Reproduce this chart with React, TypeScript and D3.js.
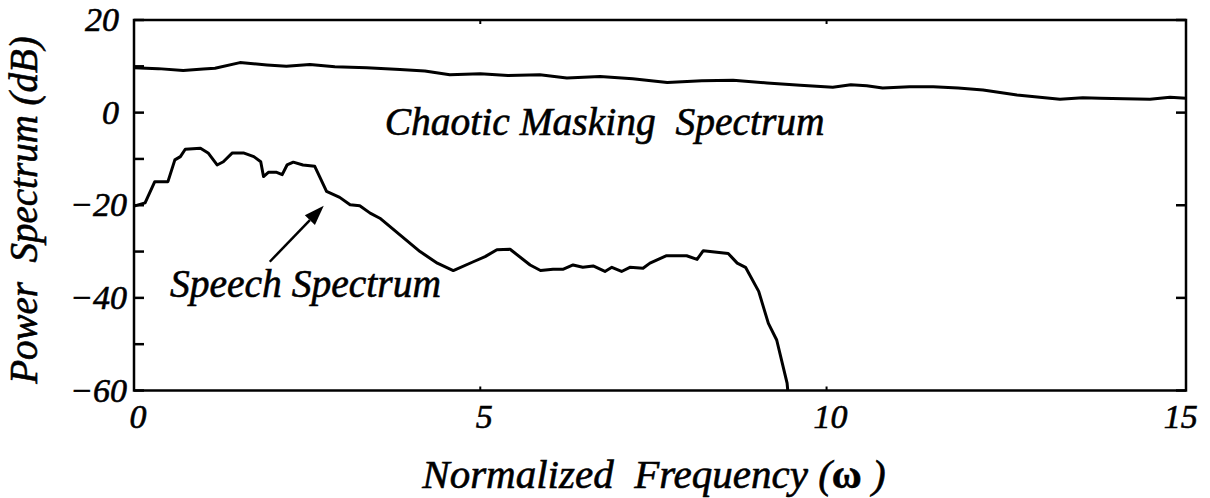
import React from "react";
import * as d3 from "d3";

const chaoticX = [0, 0.35, 0.71, 1.0, 1.17, 1.53, 1.92, 2.2, 2.54, 2.9, 3.36, 3.84, 4.2, 4.56, 5.0, 5.4, 5.86, 6.25, 6.73, 7.2, 7.7, 8.2, 8.65, 9.14, 9.62, 10.09, 10.35, 10.58, 10.81, 11.2, 11.54, 11.9, 12.26, 12.75, 13.37, 13.7, 13.95, 14.3, 14.67, 14.96, 15.19];
const chaoticY = [9.7, 9.5, 9.1, 9.4, 9.6, 10.8, 10.3, 10.0, 10.4, 9.9, 9.7, 9.3, 9.0, 8.2, 8.4, 8.0, 8.2, 7.5, 7.8, 7.3, 6.5, 6.9, 7.0, 6.4, 5.9, 5.5, 6.0, 5.8, 5.3, 5.6, 5.6, 5.3, 4.9, 3.8, 2.9, 3.2, 3.1, 3.0, 2.9, 3.3, 3.1];

const speechX = [0, 0.16, 0.3, 0.49, 0.59, 0.67, 0.74, 0.96, 1.07, 1.2, 1.29, 1.42, 1.58, 1.73, 1.83, 1.87, 1.94, 2.06, 2.14, 2.21, 2.3, 2.44, 2.61, 2.68, 2.78, 2.97, 3.12, 3.26, 3.41, 3.55, 3.84, 4.13, 4.38, 4.61, 4.9, 5.07, 5.24, 5.43, 5.72, 5.87, 6.05, 6.2, 6.34, 6.48, 6.63, 6.8, 6.9, 7.04, 7.16, 7.35, 7.45, 7.69, 7.98, 8.13, 8.22, 8.58, 8.71, 8.83, 9.02, 9.16, 9.28, 9.43, 9.44];
const speechY = [-20.2, -19.5, -14.9, -14.9, -10.2, -9.5, -7.9, -7.7, -8.7, -11.3, -10.6, -8.7, -8.7, -9.5, -10.6, -13.8, -12.9, -12.9, -13.4, -11.3, -10.7, -11.3, -11.6, -13.8, -17.0, -18.3, -19.9, -20.1, -21.7, -22.8, -26.4, -30.0, -32.5, -34.1, -32.2, -31.1, -29.6, -29.5, -32.9, -34.1, -33.8, -33.8, -32.9, -33.4, -33.1, -34.3, -33.4, -34.3, -33.4, -33.6, -32.5, -30.9, -30.9, -31.7, -29.8, -30.4, -32.5, -33.4, -38.6, -45.5, -49.1, -58.4, -60];

const xTicks = [0, 5, 10, 15];
const yTicksLeft = [20, 10, 0, -10, -20, -30, -40, -50, -60];
const yTicksRight = [20, 0, -20, -40, -60];
const yTickLabels = [20, 0, -20, -40, -60];

const chaoticLabel = { x: 3.62, y: -4.8, text: "Chaotic Masking\u00A0\u00A0Spectrum" };
const speechLabel = { x: 0.52, y: -39.8, text: "Speech Spectrum" };
const arrowFrom = { x: 1.96, y: -32.2 };
const arrowTo = { x: 2.74, y: -20.1 };
const xTitleMain = "Normalized\u00A0\u00A0Frequency\u00A0(";
const xTitleSym = "\u03C9";
const xTitleEnd = "\u00A0)";
const yTitle = "Power\u00A0\u00A0Spectrum\u00A0(dB)";

const W = 1210;
const H = 498;
const left = 134;
const right = 1186;
const top = 20;
const bottom = 390.5;

export default function App() {
  const x = d3.scaleLinear().domain([0, 15.19]).range([left, right]);
  const y = d3.scaleLinear().domain([-60, 20]).range([bottom, top]);
  const line = d3
    .line<[number, number]>()
    .x((d) => x(d[0]))
    .y((d) => y(d[1]))
    .curve(d3.curveLinear);
  const chaotic = line(chaoticX.map((v, i) => [v, chaoticY[i]]) as [number, number][]) || "";
  const speech = line(speechX.map((v, i) => [v, speechY[i]]) as [number, number][]) || "";

  const font = "'Liberation Serif', 'Times New Roman', serif";
  const fmt = (v: number) => (v < 0 ? "\u2212" + Math.abs(v) : String(v));

  const ax = x(arrowFrom.x), ay = y(arrowFrom.y), bx = x(arrowTo.x), by = y(arrowTo.y);
  const ang = Math.atan2(by - ay, bx - ax);
  const hl = 20, hw = 7;
  const baseX = bx - hl * Math.cos(ang), baseY = by - hl * Math.sin(ang);
  const head = `M${bx},${by} L${baseX + hw * Math.sin(ang)},${baseY - hw * Math.cos(ang)} L${baseX - hw * Math.sin(ang)},${baseY + hw * Math.cos(ang)} Z`;

  return (
    <svg width={W} height={H} style={{ position: "absolute", left: 0, top: 0, background: "#fff" }}>
      <rect x={left} y={top} width={right - left} height={bottom - top} fill="none" stroke="#000" strokeWidth={2.5} />
      {yTicksLeft.map((t) => (
        <line key={"l" + t} x1={left} x2={left + 10} y1={y(t)} y2={y(t)} stroke="#000" strokeWidth={2.5} />
      ))}
      {yTicksRight.map((t) => (
        <line key={"r" + t} x1={right} x2={right - 10} y1={y(t)} y2={y(t)} stroke="#000" strokeWidth={2.5} />
      ))}
      {xTicks.slice(1, 3).map((t) => (
        <g key={"x" + t}>
          <line x1={x(t)} x2={x(t)} y1={bottom} y2={bottom - 4} stroke="#000" strokeWidth={2} />
          <line x1={x(t)} x2={x(t)} y1={top} y2={top + 4} stroke="#000" strokeWidth={2} />
        </g>
      ))}
      <path d={chaotic} fill="none" stroke="#000" strokeWidth={3} strokeLinejoin="round" />
      <path d={speech} fill="none" stroke="#000" strokeWidth={3} strokeLinejoin="round" />
      <line x1={ax} y1={ay} x2={baseX} y2={baseY} stroke="#000" strokeWidth={2.5} />
      <path d={head} fill="#000" />
      <g fontFamily={font} fontStyle="italic" fontSize={34} fill="#000" stroke="#000" strokeWidth={0.6}>
        {xTicks.map((t) => (
          <text key={"xt" + t} x={x(t) + (t === 15 ? 8 : 4)} y={bottom + 37} textAnchor="middle">
            {fmt(t)}
          </text>
        ))}
        {yTickLabels.map((t) => (
          <text key={"yt" + t} x={t < 0 ? 127 : 119} y={y(t) + 11} textAnchor="end">
            {fmt(t)}
          </text>
        ))}
      </g>
      <g fontFamily={font} fontStyle="italic" fontSize={39.5} fill="#000" stroke="#000" strokeWidth={0.6}>
        <text x={x(chaoticLabel.x)} y={y(chaoticLabel.y)}>{chaoticLabel.text}</text>
        <text x={x(speechLabel.x)} y={y(speechLabel.y)}>{speechLabel.text}</text>
        <text x={654} y={488} textAnchor="middle" fontSize={41}>
          {xTitleMain}
          <tspan fontStyle="normal" fontWeight="bold">{xTitleSym}</tspan>
          {xTitleEnd}
        </text>
        <text transform="translate(37,210) rotate(-90)" textAnchor="middle" fontSize={39}>{yTitle}</text>
      </g>
    </svg>
  );
}
